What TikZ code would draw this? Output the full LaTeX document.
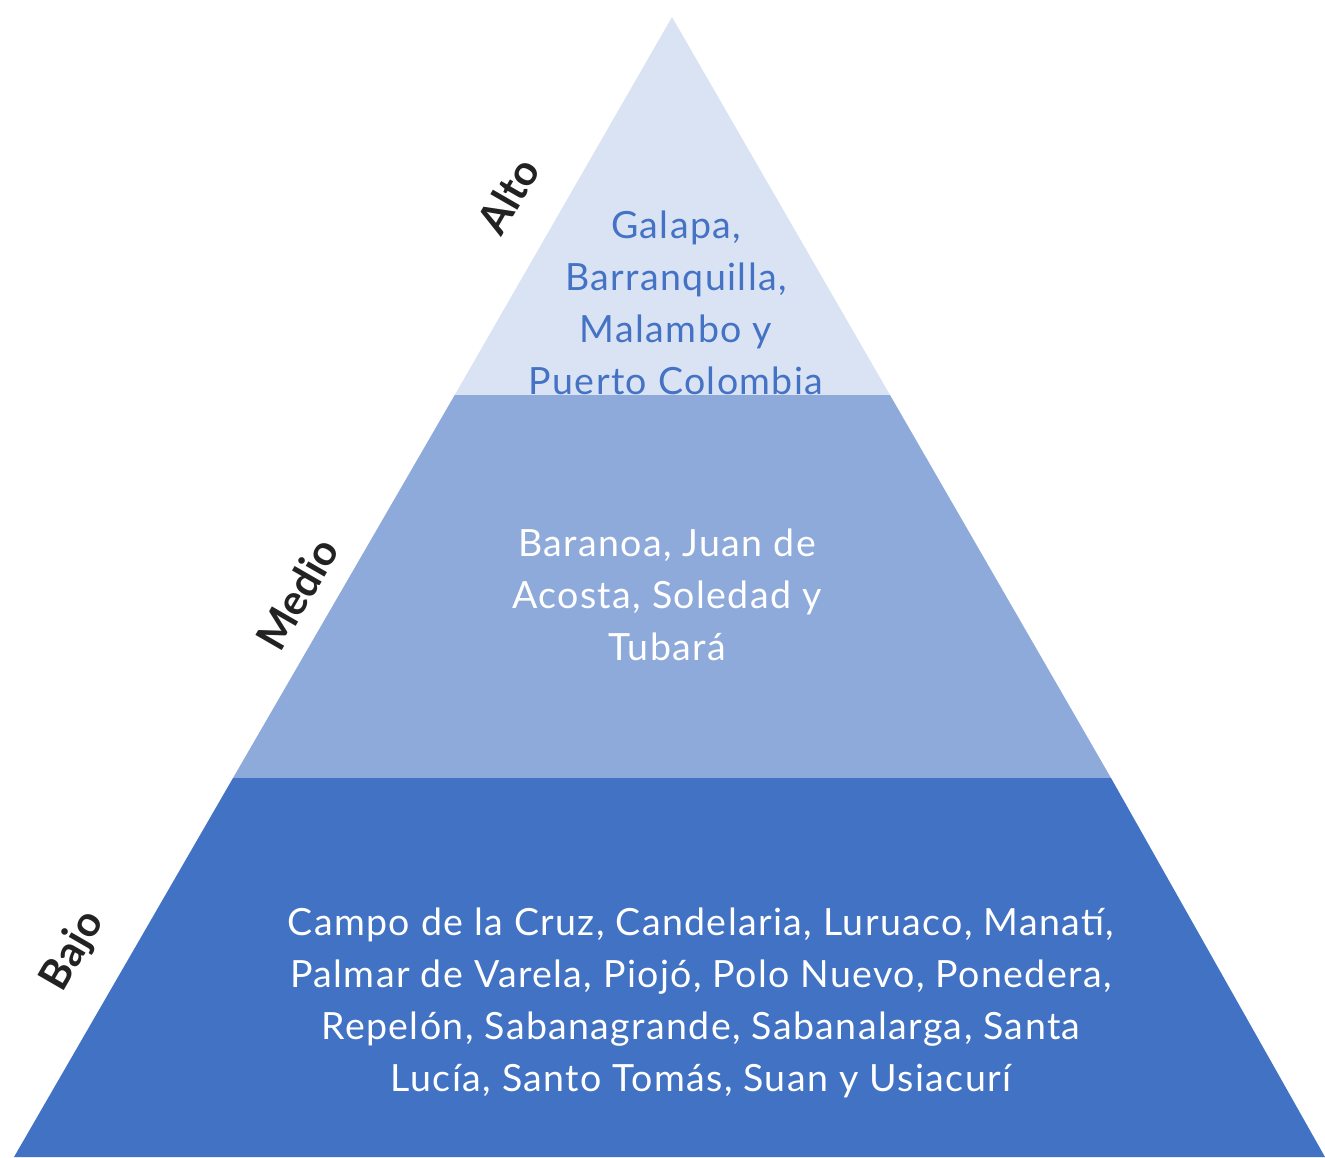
\documentclass[tikz,border=0pt]{standalone}
\usepackage{fontspec}
\setmainfont{Lato}
\newfontfamily\bodyfont{Lato}[LetterSpace=3.7]
\definecolor{tierA}{HTML}{DAE3F3}
\definecolor{tierB}{HTML}{8EAADB}
\definecolor{tierC}{HTML}{4172C4}
\definecolor{txtblue}{HTML}{4472C4}
\definecolor{lbl}{HTML}{222222}
\begin{document}
\begin{tikzpicture}[x=1pt,y=-1pt,
  body/.style={align=center,font=\bodyfont\fontsize{37.5}{52}\selectfont,inner sep=0pt},
  tierlbl/.style={font=\fontsize{42}{44}\selectfont\bfseries,text=lbl,rotate=60,inner sep=0pt}]
\useasboundingbox (0,0) rectangle (1325,1157);
\coordinate (apex) at (672,17);
\coordinate (bl) at (14,1157);
\coordinate (br) at (1325,1157);
\coordinate (l1) at (454.7,395);
\coordinate (r1) at (890,395);
\coordinate (l2) at (233,778);
\coordinate (r2) at (1111,778);
\fill[tierA] (apex) -- (r1) -- (l1) -- cycle;
\fill[tierB] (l1) -- (r1) -- (r2) -- (l2) -- cycle;
\fill[tierC] (l2) -- (r2) -- (br) -- (bl) -- cycle;
\node[body,text=txtblue] (ta) at (676,303) {Galapa,\\Barranquilla,\\Malambo y\\Puerto Colombia};
\node[body,text=white] (tb) at (667,595) {Baranoa, Juan de\\Acosta, Soledad y\\Tubará};
\node[body,text=white] (tc) at (701,1003) {Campo de la Cruz, Candelaria, Luruaco, Manatí,\\Palmar de Varela, Piojó, Polo Nuevo, Ponedera,\\Repelón, Sabanagrande, Sabanalarga, Santa\\Lucía, Santo Tomás, Suan y Usiacurí};
\node[tierlbl] (la) at (508,196) {Alto};
\node[tierlbl] (lb) at (297,594) {Medio};
\node[tierlbl] (lc) at (73,951) {Bajo};
\end{tikzpicture}
\end{document}
